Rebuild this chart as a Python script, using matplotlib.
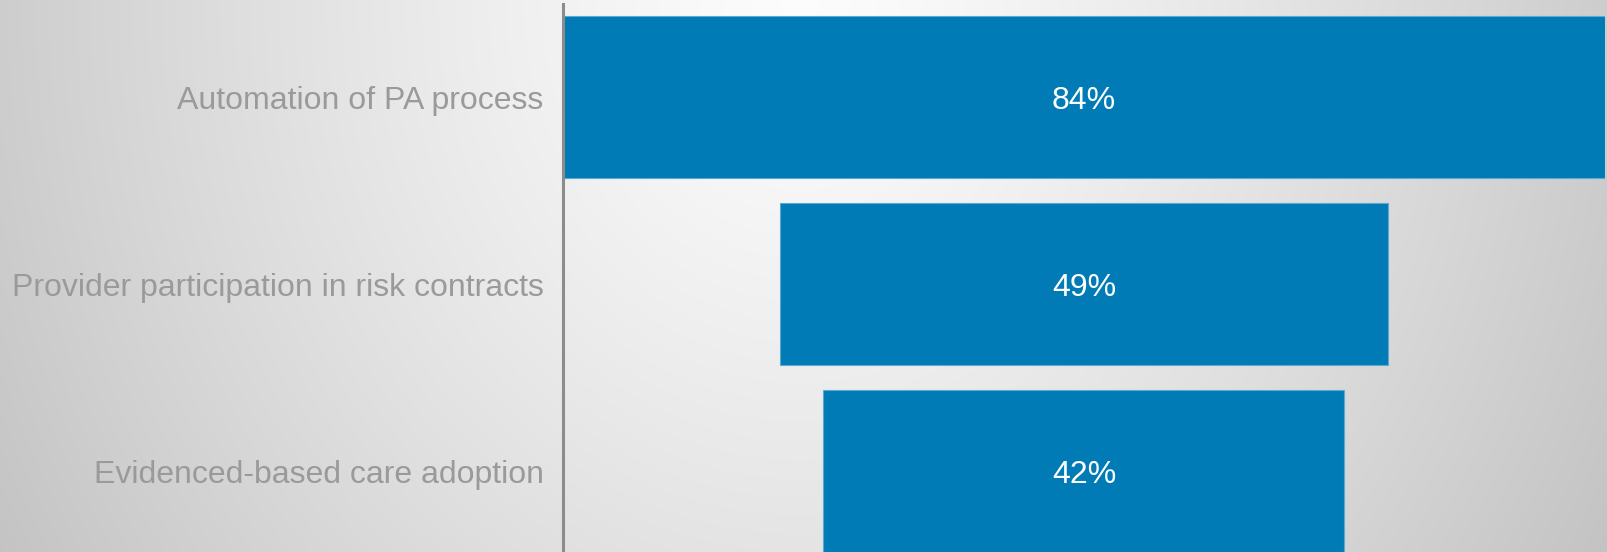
import numpy as np
from matplotlib import pyplot as plt

# 各项占比（漏斗图）
categories = ['Automation of PA process',
              'Provider participation in risk contracts',
              'Evidenced-based care adoption']
values = [84, 49, 42]
labels = ['84%', '49%', '42%']

plt.rcParams['font.family'] = ['Liberation Sans', 'DejaVu Sans']

fig = plt.figure(figsize=(16.08, 5.52), dpi=100)

# 背景：椭圆形径向渐变，最亮处在上方中间
bg = fig.add_axes([0, 0, 1, 1], zorder=-1)
w, h = 1608, 552
xx, yy = np.meshgrid(np.arange(w), np.arange(h))
r = np.hypot((xx - 800) / 820, yy / 953)
shade = np.clip(0.99 - 0.19 * r ** 1.25, 0, 1)
bg.imshow(np.dstack([shade] * 3), aspect='auto', extent=(0, 1, 0, 1))
bg.axis('off')

# 主坐标轴（底部超出画布，最后一个条形被截断）
ax = fig.add_axes([563 / w, -12.5 / h, (1605 - 563) / w, 561 / h])
ax.patch.set_alpha(0)

y = np.arange(len(values))
vmax = max(values)
left = [(vmax - v) / 2 for v in values]
bars = ax.barh(y, values, left=left, height=0.866, color='#007bb6',
               edgecolor='#5aa9d6', linewidth=0.8)

for b, t in zip(bars, labels):
    ax.text(b.get_x() + b.get_width() / 2, b.get_y() + b.get_height() / 2, t,
            ha='center', va='center_baseline', color='white', fontsize=23)

ax.set_xlim(0, vmax)
ax.set_ylim(len(values) - 0.5, -0.5)
ax.set_yticks(y)
ax.set_yticklabels(categories, fontsize=23, color='#9a9a9a',
                   va='center_baseline')
ax.tick_params(axis='y', length=0, pad=14)
ax.set_xticks([])

for s in ['top', 'right', 'bottom']:
    ax.spines[s].set_visible(False)
ax.spines['left'].set_color('#8c8c8c')
ax.spines['left'].set_linewidth(2.2)

plt.savefig('out.png', dpi=100)
